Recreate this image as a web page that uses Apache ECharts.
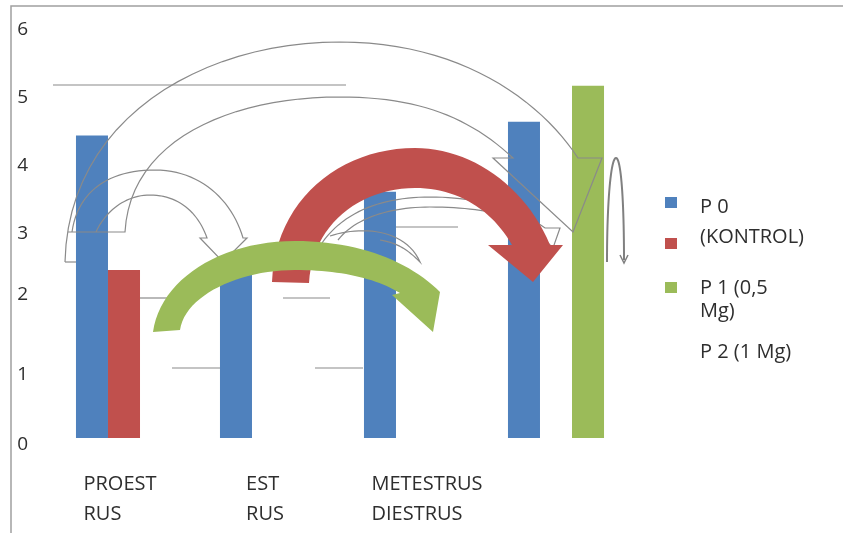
<!DOCTYPE html>
<html><head><meta charset="utf-8">
<script src="https://cdn.jsdelivr.net/npm/echarts/dist/echarts.min.js"></script>
<style>html,body{margin:0;padding:0;background:#fff}#c{width:843px;height:533px}</style>
</head><body><div id="c"></div>
<script>
const categories = ['PROEST\nRUS', 'EST\nRUS', 'METESTRUS\nDIESTRUS', ''];
const seriesNames = ['P 0 (KONTROL)', 'P 1 (0,5 Mg)', 'P 2 (1 Mg)'];
const p0Values = [4.45, 2.6, 3.62, 4.65];
const p1Values = [2.47, null, null, null];
const p2Values = [null, null, null, 5.18];
const yTickLabels = ['0', '1', '2', '3', '4', '5', '6'];
const legendLines = ['P 0', '(KONTROL)', 'P 1 (0,5', 'Mg)', 'P 2 (1 Mg)'];

const colors = ['#4F81BD', '#C0504D', '#9BBB59'];
const FONT = '"Open Sans", sans-serif';
const GRAY = '#8a8a8a';
const TEXT = '#2e2e2e';

const chart = echarts.init(document.getElementById('c'), null, {renderer: 'canvas'});

const labelStyleKey = ['a', 'b', 'c', 'a'];
function catLabel(v, i) {
  const st = labelStyleKey[i];
  return v.split('\n').map(s => '{' + st + '|' + s + '}').join('\n');
}
const lbl = {align: 'left', fontSize: 20, lineHeight: 30, color: TEXT, fontFamily: FONT};

// y label nudges (reference labels are not evenly spaced)
const yStyleKey = ['d', 'u', 'v', 'n', 'n', 'n', 'n'];
const ylbl = {fontSize: 19, color: TEXT, fontFamily: FONT};

function samplePath(d) {
  const tk = d.trim().split(/[\s,]+/);
  const pts = [];
  let i = 0, cx = 0, cy = 0, cmd = '';
  while (i < tk.length) {
    if (/^[MLCZ]$/.test(tk[i])) { cmd = tk[i]; i++; if (cmd === 'Z') { continue; } }
    if (cmd === 'M' || cmd === 'L') {
      cx = +tk[i]; cy = +tk[i + 1]; i += 2; pts.push([cx, cy]);
    } else if (cmd === 'C') {
      const x1 = +tk[i], y1 = +tk[i + 1], x2 = +tk[i + 2], y2 = +tk[i + 3], x3 = +tk[i + 4], y3 = +tk[i + 5];
      i += 6;
      for (let s = 1; s <= 24; s++) {
        const t = s / 24, u = 1 - t;
        pts.push([u*u*u*cx + 3*u*u*t*x1 + 3*u*t*t*x2 + t*t*t*x3,
                  u*u*u*cy + 3*u*u*t*y1 + 3*u*t*t*y2 + t*t*t*y3]);
      }
      cx = x3; cy = y3;
    } else { i++; }
  }
  return pts;
}

const outline = {fill: 'none', stroke: GRAY, lineWidth: 1.2};
const thin = {stroke: GRAY, lineWidth: 1.2};
function pline(d, z, style) { return {type: 'polyline', z: z, silent: true, shape: {points: samplePath(d)}, style: style}; }
function pgon(d, z, fill) { return {type: 'polygon', z: z, silent: true, shape: {points: samplePath(d)}, style: {fill: fill, stroke: 'none'}}; }

const graphic = [
  {type: 'rect', z: 0, silent: true, shape: {x: 11, y: 6, width: 900, height: 600}, style: {fill: 'none', stroke: '#a0a0a0', lineWidth: 1.5}},
  {type: 'line', z: 0, silent: true, shape: {x1: 53, y1: 85, x2: 346, y2: 85}, style: thin},
  {type: 'line', z: 0, silent: true, shape: {x1: 140, y1: 298, x2: 168, y2: 298}, style: thin},
  {type: 'line', z: 0, silent: true, shape: {x1: 283, y1: 298, x2: 330, y2: 298}, style: thin},
  {type: 'line', z: 0, silent: true, shape: {x1: 172, y1: 368, x2: 220, y2: 368}, style: thin},
  {type: 'line', z: 0, silent: true, shape: {x1: 315, y1: 368, x2: 363, y2: 368}, style: thin},
  {type: 'line', z: 0, silent: true, shape: {x1: 396, y1: 227, x2: 458, y2: 227}, style: thin},
  pline('M 65 262 C 68 120 200 42 340 42 C 460 42 540 100 578 158 L 602 158 L 573 232 L 493 158 L 513 158 ' +
        'C 470 118 420 97 340 97 C 230 97 130 140 125 232 L 68 232', 10, outline),
  {type: 'line', z: 10, silent: true, shape: {x1: 65, y1: 262, x2: 76, y2: 262}, style: thin},
  pline('M 72 232 C 78 190 110 170 155 170 C 200 170 232 200 243 238 L 247 238 L 223 262 L 200 238 L 207 238 ' +
        'C 198 212 178 195 150 195 C 125 195 105 212 96 232', 10, outline),
  pline('M 322 243 C 345 210 385 197 430 197 C 480 197 520 210 545 228 L 560 228 L 553 248 L 537 232 L 541 232 ' +
        'C 515 215 480 207 430 207 C 390 207 355 218 338 240', 10, outline),
  pline('M 330 236 C 360 226 405 228 420 262 C 408 250 398 243 380 240', 10, outline),
  pline('M 607 262 C 607 200 611 158 616 158 C 621 158 624 200 624 260', 10, {fill: 'none', stroke: '#808080', lineWidth: 2}),
  pline('M 620 255 L 624 263 L 628 255', 10, {fill: 'none', stroke: '#808080', lineWidth: 1.5}),
  pgon('M 272 282 C 275 200 340 148 415 148 C 470 148 525 185 550 245 L 563 245 L 533 282 L 488 245 L 512 245 ' +
       'C 492 210 458 188 415 188 C 360 188 312 225 309 283 Z', 11, colors[1]),
  pgon('M 153 332 C 160 280 220 241 295 241 C 360 241 410 262 440 292 L 433 332 L 392 295 L 400 293 ' +
       'C 375 278 340 270 295 270 C 240 270 185 295 180 330 Z', 12, colors[2]),
  {type: 'rect', z: 5, silent: true, shape: {x: 665, y: 197, width: 12, height: 11}, style: {fill: colors[0]}},
  {type: 'rect', z: 5, silent: true, shape: {x: 665, y: 238, width: 12, height: 11}, style: {fill: colors[1]}},
  {type: 'rect', z: 5, silent: true, shape: {x: 665, y: 282, width: 12, height: 11}, style: {fill: colors[2]}}
];
const legendY = [207, 237, 288, 311, 352];
legendLines.forEach((t, i) => {
  graphic.push({type: 'text', z: 5, silent: true, style: {text: t, x: 700, y: legendY[i],
    verticalAlign: 'middle', fill: TEXT, font: '20px ' + FONT}});
});

chart.setOption({
  backgroundColor: '#fff',
  animation: false,
  textStyle: {fontFamily: FONT},
  grid: {left: 52, right: 215, top: 30, bottom: 95},
  xAxis: {
    type: 'category', data: categories,
    axisLine: {show: false}, axisTick: {show: false}, splitLine: {show: false},
    axisLabel: {
      margin: 31, interval: 0, color: TEXT, fontSize: 20, lineHeight: 30,
      formatter: catLabel,
      rich: {
        a: Object.assign({}, lbl, {padding: [0, 8, 0, 0]}),
        b: Object.assign({}, lbl, {padding: [0, 6, 0, 0]}),
        c: Object.assign({}, lbl, {padding: [0, 0, 0, 30]})
      }
    }
  },
  yAxis: {
    type: 'value', min: 0, max: 6, interval: 1,
    axisLine: {show: false}, axisTick: {show: false}, splitLine: {show: false},
    axisLabel: {
      margin: 24, color: TEXT, fontSize: 19,
      formatter: v => '{' + yStyleKey[v] + '|' + yTickLabels[v] + '}',
      rich: {
        n: ylbl,
        d: Object.assign({}, ylbl, {padding: [14, 0, 0, 0]}),
        u: Object.assign({}, ylbl, {padding: [10, 0, 0, 0]}),
        v: Object.assign({}, ylbl, {padding: [0, 0, 14, 0]})
      }
    }
  },
  series: [
    {name: seriesNames[0], type: 'bar', data: p0Values, itemStyle: {color: colors[0]}, barGap: '0%', barCategoryGap: '33.3%', z: 2},
    {name: seriesNames[1], type: 'bar', data: p1Values, itemStyle: {color: colors[1]}, barGap: '0%', barCategoryGap: '33.3%', z: 2},
    {name: seriesNames[2], type: 'bar', data: p2Values, itemStyle: {color: colors[2]}, barGap: '0%', barCategoryGap: '33.3%', z: 2}
  ],
  graphic: {elements: graphic}
});
</script></body></html>
